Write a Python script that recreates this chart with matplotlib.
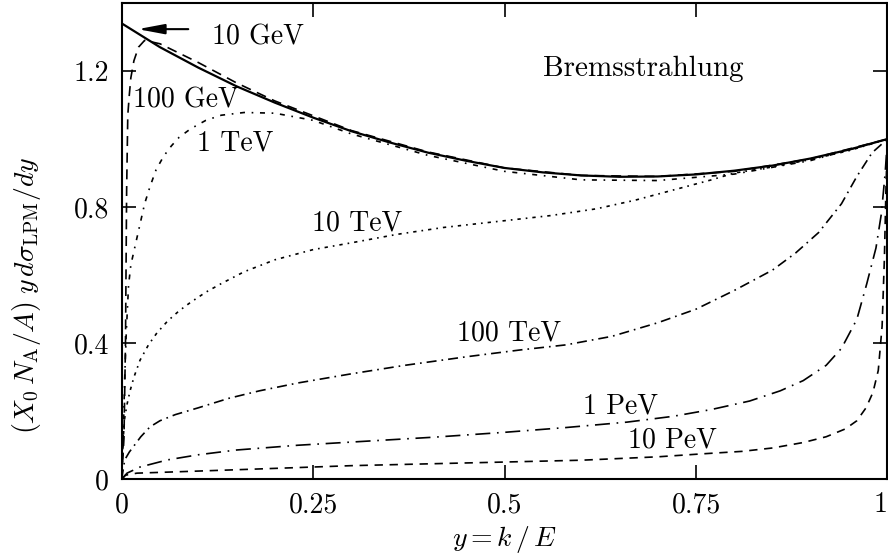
import matplotlib
matplotlib.use('Agg')
import matplotlib.pyplot as plt

plt.rcParams['font.family'] = 'serif'
plt.rcParams['font.serif'] = ['cmr10', 'DejaVu Serif']
plt.rcParams['mathtext.fontset'] = 'cm'
plt.rcParams['axes.formatter.use_mathtext'] = True

# y = k/E and (X0 NA/A) y dsigma/dy for each electron energy
x_10gev = [0, 0.05, 0.1, 0.15, 0.2, 0.25, 0.3, 0.35, 0.4, 0.45, 0.5, 0.55, 0.6, 0.65,
           0.7, 0.75, 0.8, 0.85, 0.9, 0.95, 1.0]
y_10gev = [1.34, 1.27, 1.21, 1.155, 1.107, 1.063, 1.023, 0.99, 0.96, 0.936, 0.915,
           0.902, 0.893, 0.889, 0.89, 0.896, 0.907, 0.922, 0.943, 0.969, 1.0]

x_100gev = [0, 0.003, 0.005, 0.0065, 0.008, 0.01, 0.012, 0.016, 0.022, 0.03, 0.05,
            0.1, 0.15, 0.2, 0.3, 0.4, 0.5, 0.6, 0.7, 0.8, 0.9, 1.0]
y_100gev = [0, 0.12, 0.40, 0.85, 1.07, 1.13, 1.18, 1.23, 1.27, 1.29, 1.28, 1.225,
            1.165, 1.112, 1.025, 0.962, 0.915, 0.893, 0.89, 0.905, 0.942, 1.0]

x_1tev = [0, 0.002, 0.004, 0.006, 0.009, 0.012, 0.016, 0.02, 0.025, 0.03, 0.037,
          0.045, 0.055, 0.065, 0.075, 0.09, 0.11, 0.13, 0.16, 0.2, 0.25, 0.3, 0.4,
          0.5, 0.6, 0.7, 0.8, 0.9, 1.0]
y_1tev = [0, 0.12, 0.30, 0.43, 0.57, 0.63, 0.67, 0.71, 0.76, 0.81, 0.86, 0.91, 0.95,
          0.98, 1.005, 1.03, 1.055, 1.07, 1.078, 1.076, 1.055, 1.015, 0.952, 0.905,
          0.88, 0.878, 0.897, 0.937, 1.0]

x_10tev = [0, 0.002, 0.004, 0.007, 0.011, 0.016, 0.024, 0.035, 0.046, 0.06, 0.075,
           0.09, 0.11, 0.13, 0.16, 0.2, 0.25, 0.3, 0.36, 0.42, 0.5, 0.56, 0.62, 0.67,
           0.72, 0.77, 0.8, 0.85, 0.9, 0.95, 1.0]
y_10tev = [0, 0.12, 0.18, 0.22, 0.26, 0.30, 0.35, 0.395, 0.43, 0.465, 0.495, 0.52,
           0.55, 0.575, 0.61, 0.645, 0.675, 0.695, 0.72, 0.74, 0.76, 0.775, 0.795,
           0.82, 0.85, 0.88, 0.9, 0.918, 0.94, 0.966, 1.0]

x_100tev = [0, 0.004, 0.01, 0.015, 0.025, 0.037, 0.05, 0.07, 0.1, 0.14, 0.18, 0.23,
            0.3, 0.37, 0.45, 0.52, 0.58, 0.64, 0.7, 0.75, 0.8, 0.85, 0.88, 0.91,
            0.94, 0.96, 0.98, 1.0]
y_100tev = [0, 0.057, 0.08, 0.095, 0.125, 0.154, 0.172, 0.19, 0.21, 0.238, 0.26,
            0.283, 0.31, 0.335, 0.36, 0.38, 0.395, 0.42, 0.46, 0.50, 0.555, 0.615,
            0.665, 0.725, 0.81, 0.89, 0.96, 1.0]

x_1pev = [0, 0.007, 0.024, 0.06, 0.1, 0.15, 0.23, 0.32, 0.41, 0.5, 0.58, 0.66, 0.72,
          0.77, 0.82, 0.86, 0.89, 0.92, 0.94, 0.96, 0.973, 0.985, 0.992, 0.997, 1.0]
y_1pev = [0, 0.018, 0.036, 0.057, 0.072, 0.086, 0.1, 0.112, 0.124, 0.138, 0.152,
          0.168, 0.185, 0.205, 0.23, 0.26, 0.29, 0.335, 0.385, 0.47, 0.575, 0.68,
          0.78, 0.9, 1.0]

x_10pev = [0, 0.005, 0.02, 0.06, 0.15, 0.3, 0.45, 0.6, 0.7, 0.76, 0.81, 0.85, 0.89,
           0.92, 0.945, 0.96, 0.972, 0.981, 0.988, 0.993, 0.996, 0.998, 1.0]
y_10pev = [0, 0.012, 0.018, 0.021, 0.028, 0.04, 0.048, 0.056, 0.066, 0.075, 0.082,
           0.092, 0.108, 0.125, 0.148, 0.172, 0.21, 0.255, 0.32, 0.45, 0.65, 0.85, 1.0]

x_ticks = [0, 0.25, 0.5, 0.75, 1]
x_ticklabels = ['0', '0.25', '0.5', '0.75', '1']
y_ticks = [0, 0.4, 0.8, 1.2]
y_ticklabels = ['0', '0.4', '0.8', '1.2']

fig = plt.figure(figsize=(8.88, 5.56), dpi=100)
ax = fig.add_axes([0.137, 0.138, 0.8624, 0.8567])

ax.plot(x_10gev, y_10gev, color='black', lw=1.6, ls='-')
ax.plot(x_100gev, y_100gev, color='black', lw=1.2, ls=(0, (6, 4)))
ax.plot(x_1tev, y_1tev, color='black', lw=1.2, ls=(0, (3, 4, 1, 4)))
ax.plot(x_10tev, y_10tev, color='black', lw=1.2, ls=(0, (2, 3, 1, 3)))
ax.plot(x_100tev, y_100tev, color='black', lw=1.2, ls=(0, (6, 3, 1, 3)))
ax.plot(x_1pev, y_1pev, color='black', lw=1.2, ls=(0, (9, 4, 1, 4)))
ax.plot(x_10pev, y_10pev, color='black', lw=1.2, ls=(0, (5, 4)))

# curve labels
fs = 20
ax.text(0.118, 1.278, '10 GeV', fontsize=fs, ha='left', va='baseline')
ax.text(0.0144, 1.093, '100 GeV', fontsize=fs, ha='left', va='baseline')
ax.text(0.099, 0.966, '1 TeV', fontsize=fs, ha='left', va='baseline')
ax.text(0.248, 0.731, '10 TeV', fontsize=fs, ha='left', va='baseline')
ax.text(0.438, 0.4085, '100 TeV', fontsize=fs, ha='left', va='baseline')
ax.text(0.602, 0.194, '1 PeV', fontsize=fs, ha='left', va='baseline')
ax.text(0.661, 0.092, '10 PeV', fontsize=fs, ha='left', va='baseline')
ax.text(0.55, 1.185, 'Bremsstrahlung', fontsize=fs + 1, ha='left', va='baseline')

ax.annotate('', xy=(0.021, 1.323), xytext=(0.087, 1.323),
            arrowprops=dict(arrowstyle='-|>,head_length=0.8,head_width=0.15',
                            color='black', lw=1.5, mutation_scale=20,
                            shrinkA=0, shrinkB=0))

ax.set_xlim(0, 1)
ax.set_ylim(0, 1.4)
ax.set_xticks(x_ticks)
ax.set_xticklabels(x_ticklabels)
ax.set_yticks(y_ticks)
ax.set_yticklabels(y_ticklabels)
ax.tick_params(direction='in', top=True, right=True, length=10, width=1.2,
               labelsize=fs, pad=9)
# last label sits at the figure edge, keep it inside
ax.get_xticklabels()[-1].set_ha('right')
for s in ax.spines.values():
    s.set_linewidth(1.5)

ax.set_xlabel(r'$y = k\,/\,E$', fontsize=fs, labelpad=4)
fig.text(0.03, 1 - 295 / 556, r'$(X_0\,N_{\rm A}/A)\;y\,d\sigma_{\rm LPM}/dy$',
         fontsize=fs, rotation=90, ha='center', va='center')

fig.savefig('out.png', dpi=100)
